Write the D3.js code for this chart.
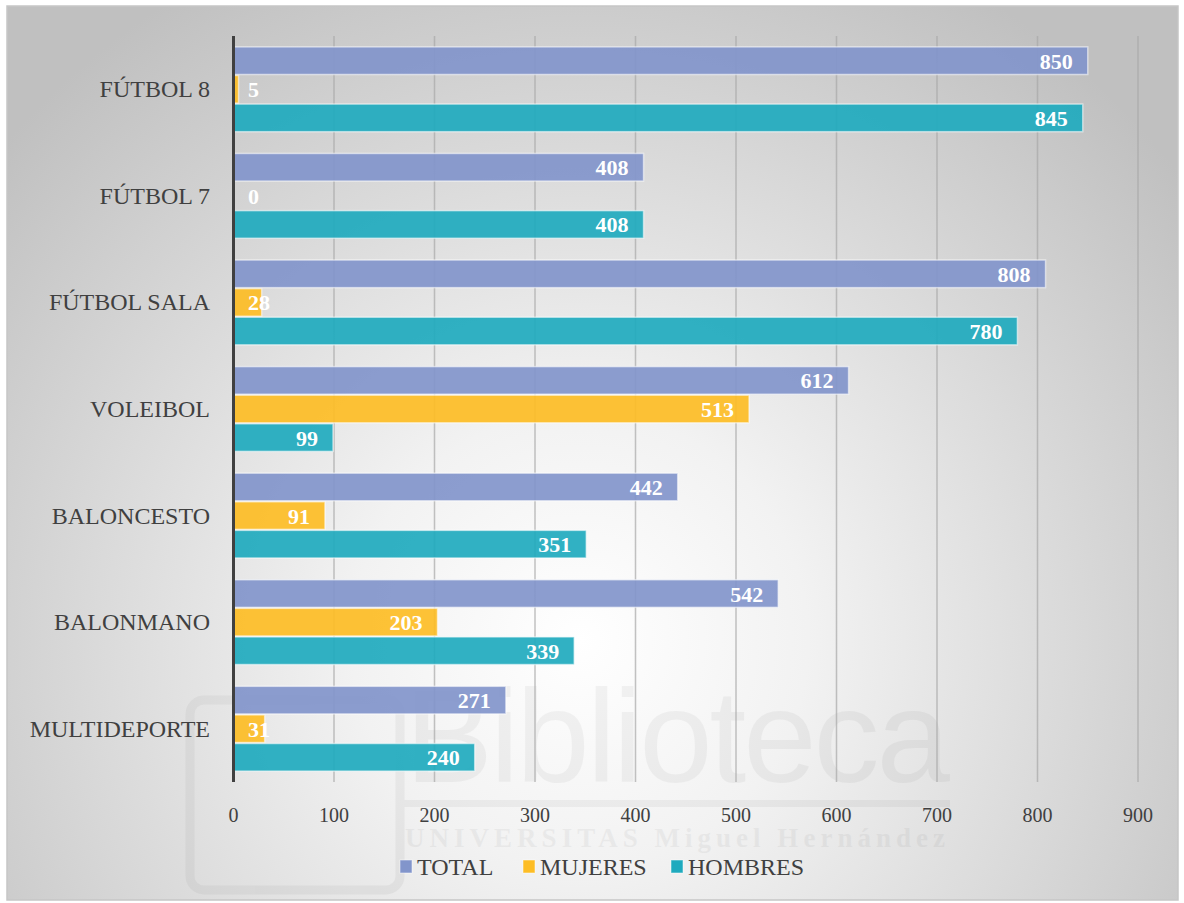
<!DOCTYPE html>
<html>
<head>
  <meta charset="utf-8">
  <title>Deportes por sexo</title>
  <script src="https://d3js.org/d3.v7.min.js"></script>
  <style>
    body { margin: 0; background: #fff; }
    text { font-family: "Liberation Serif", "DejaVu Serif", serif; }
  </style>
</head>
<body>
  <svg id="grafico" width="1184" height="903"></svg>

  <script>
    const categorias = ["FÚTBOL 8", "FÚTBOL 7", "FÚTBOL SALA", "VOLEIBOL", "BALONCESTO", "BALONMANO", "MULTIDEPORTE"];
    const series = ["TOTAL", "MUJERES", "HOMBRES"];
    const total = [850, 408, 808, 612, 442, 542, 271];
    const mujeres = [5, 0, 28, 513, 91, 203, 31];
    const hombres = [845, 408, 780, 99, 351, 339, 240];
    const ticks = [0, 100, 200, 300, 400, 500, 600, 700, 800, 900];

    const colores = { TOTAL: "#8295cb", MUJERES: "#fdbd25", HOMBRES: "#1faabe" };

    const width = 1184, height = 903;
    const svg = d3.select("#grafico");

    // fondo con degradado radial
    const defs = svg.append("defs");
    const grad = defs.append("radialGradient")
      .attr("id", "fondo")
      .attr("gradientUnits", "userSpaceOnUse")
      .attr("cx", 580).attr("cy", 640).attr("r", 760);
    grad.append("stop").attr("offset", "0").attr("stop-color", "#ffffff");
    grad.append("stop").attr("offset", "0.3").attr("stop-color", "#f2f2f2");
    grad.append("stop").attr("offset", "1").attr("stop-color", "#c0c0c0");

    svg.append("rect")
      .attr("x", 7).attr("y", 6)
      .attr("width", 1171).attr("height", 894)
      .attr("fill", "url(#fondo)")
      .attr("stroke", "#c6c6c6")
      .attr("stroke-width", 1.5);

    // marca de agua (muy tenue)
    const marca = svg.append("g").attr("opacity", 0.04);
    marca.append("rect").attr("x", 190).attr("y", 700).attr("width", 210).attr("height", 190)
      .attr("rx", 14).attr("fill", "none").attr("stroke", "#000").attr("stroke-width", 9);
    marca.append("text").attr("x", 405).attr("y", 782)
      .style("font-family", "'Liberation Sans', sans-serif")
      .style("font-size", "132px").attr("fill", "#000")
      .attr("textLength", 545).text("Biblioteca");
    marca.append("rect").attr("x", 403).attr("y", 800).attr("width", 547).attr("height", 7).attr("fill", "#000");
    marca.append("text").attr("x", 405).attr("y", 847)
      .style("font-size", "27px").style("font-weight", "bold").attr("fill", "#000")
      .attr("textLength", 540).text("UNIVERSITAS Miguel Hernández");

    const x = d3.scaleLinear().domain([0, 900]).range([233.5, 1138]);
    const y = d3.scaleBand().domain(categorias).range([36, 782])
      .paddingInner(0.195).paddingOuter(0.0975);
    const ySub = d3.scaleBand().domain(series).range([0, y.bandwidth()]);

    // líneas de cuadrícula
    svg.append("g")
      .selectAll("line")
      .data(ticks.slice(1))
      .join("line")
      .attr("x1", d => x(d)).attr("x2", d => x(d))
      .attr("y1", 36).attr("y2", 782)
      .attr("stroke", "#a8a8a8")
      .attr("stroke-opacity", 0.7)
      .attr("stroke-width", 1.5);

    // etiquetas del eje X
    svg.append("g")
      .selectAll("text")
      .data(ticks)
      .join("text")
      .attr("x", d => x(d))
      .attr("y", 822)
      .attr("text-anchor", "middle")
      .attr("fill", "#404040")
      .style("font-size", "20px")
      .text(d => d);

    const filas = categorias.map((c, i) => ({
      cat: c,
      valores: [
        { serie: "TOTAL", v: total[i] },
        { serie: "MUJERES", v: mujeres[i] },
        { serie: "HOMBRES", v: hombres[i] }
      ]
    }));

    const grupo = svg.append("g")
      .selectAll("g")
      .data(filas)
      .join("g")
      .attr("transform", d => `translate(0,${y(d.cat)})`);

    grupo.selectAll("rect")
      .data(d => d.valores.filter(e => e.v > 0))
      .join("rect")
      .attr("x", x(0))
      .attr("y", d => ySub(d.serie) + 0.5)
      .attr("width", d => x(d.v) - x(0))
      .attr("height", ySub.bandwidth() - 1)
      .attr("fill", d => colores[d.serie])
      .attr("fill-opacity", 0.92)
      .attr("stroke", "#ffffff")
      .attr("stroke-opacity", 0.55)
      .attr("stroke-width", 1.5);

    // etiquetas de valores
    grupo.selectAll("text")
      .data(d => d.valores)
      .join("text")
      .attr("y", d => ySub(d.serie) + ySub.bandwidth() / 2 + 8)
      .attr("fill", "#ffffff")
      .style("font-size", "22px")
      .style("font-weight", "bold")
      .text(d => d.v)
      .each(function (d) {
        const w = this.getComputedTextLength();
        const fin = Math.max(x(d.v) - 15, 248 + w);
        d3.select(this).attr("x", fin).attr("text-anchor", "end");
      });

    // eje vertical
    svg.append("line")
      .attr("x1", x(0)).attr("x2", x(0))
      .attr("y1", 36).attr("y2", 782)
      .attr("stroke", "#404040")
      .attr("stroke-width", 3);

    // etiquetas de categorías
    svg.append("g")
      .selectAll("text")
      .data(categorias)
      .join("text")
      .attr("x", 210)
      .attr("y", d => y(d) + y.bandwidth() / 2 + 8)
      .attr("text-anchor", "end")
      .attr("fill", "#404040")
      .style("font-size", "24px")
      .text(d => d);

    // leyenda
    const leyX = [400, 523, 671];
    const leyenda = svg.append("g")
      .selectAll("g")
      .data(series)
      .join("g")
      .attr("transform", (d, i) => `translate(${leyX[i]},860)`);

    leyenda.append("rect")
      .attr("width", 12).attr("height", 13)
      .attr("fill", d => colores[d])
      .attr("stroke", "#ffffff").attr("stroke-opacity", 0.5);

    leyenda.append("text")
      .attr("x", 17).attr("y", 15)
      .attr("fill", "#404040")
      .style("font-size", "24px")
      .text(d => d);
  </script>
</body>
</html>
